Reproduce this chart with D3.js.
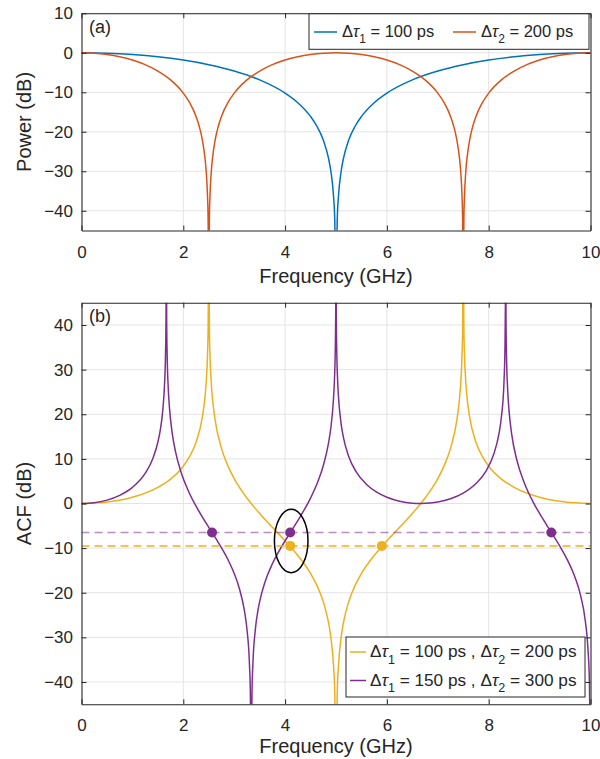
<!DOCTYPE html>
<html>
<head>
<meta charset="utf-8">
<script src="https://cdn.jsdelivr.net/npm/d3@7"></script>
<style>
  body { margin: 0; background: #fff; }
  svg text { font-family: "Liberation Sans", Arial, sans-serif; fill: #262626; }
</style>
</head>
<body>
<div id="chart"></div>
<script>
// ---- data ----
const freqTicks = [0, 2, 4, 6, 8, 10];
const powerTicks = [10, 0, -10, -20, -30, -40];
const acfTicks = [40, 30, 20, 10, 0, -10, -20, -30, -40];

// (a) power vs frequency [GHz, dB]
const powerTau100 = [[0,0],[0.5,-0.11],[1,-0.44],[1.5,-1.00],[2,-1.84],[2.5,-3.01],[3,-4.62],[3.5,-6.86],[4,-10.20],
  [4.25,-12.64],[4.5,-16.11],[4.625,-18.60],[4.75,-22.11],[4.85,-26.54],[4.9,-30.06],[4.95,-36.08],[4.975,-42.10],[5,-60],
  [5.025,-42.10],[5.05,-36.08],[5.1,-30.06],[5.15,-26.54],[5.25,-22.11],[5.375,-18.60],[5.5,-16.11],[5.75,-12.64],
  [6,-10.20],[6.5,-6.86],[7,-4.62],[7.5,-3.01],[8,-1.84],[8.5,-1.00],[9,-0.44],[9.5,-0.11],[10,0]];

const powerTau200 = [[0,0],[0.25,-0.11],[0.5,-0.44],[0.75,-1.00],[1,-1.84],[1.25,-3.01],[1.5,-4.62],[1.75,-6.86],[2,-10.20],
  [2.125,-12.64],[2.25,-16.11],[2.3125,-18.60],[2.375,-22.11],[2.425,-26.54],[2.45,-30.06],[2.475,-36.08],[2.4875,-42.10],[2.5,-60],
  [2.5125,-42.10],[2.525,-36.08],[2.55,-30.06],[2.575,-26.54],[2.625,-22.11],[2.6875,-18.60],[2.75,-16.11],[2.875,-12.64],
  [3,-10.20],[3.25,-6.86],[3.5,-4.62],[3.75,-3.01],[4,-1.84],[4.25,-1.00],[4.5,-0.44],[4.75,-0.11],[5,0],
  [5.25,-0.11],[5.5,-0.44],[5.75,-1.00],[6,-1.84],[6.25,-3.01],[6.5,-4.62],[6.75,-6.86],[7,-10.20],
  [7.125,-12.64],[7.25,-16.11],[7.3125,-18.60],[7.375,-22.11],[7.425,-26.54],[7.45,-30.06],[7.475,-36.08],[7.4875,-42.10],[7.5,-60],
  [7.5125,-42.10],[7.525,-36.08],[7.55,-30.06],[7.575,-26.54],[7.625,-22.11],[7.6875,-18.60],[7.75,-16.11],[7.875,-12.64],
  [8,-10.20],[8.25,-6.86],[8.5,-4.62],[8.75,-3.01],[9,-1.84],[9.25,-1.00],[9.5,-0.44],[9.75,-0.11],[10,0]];

// (b) ACF vs frequency [GHz, dB]
const acf100_200 = [[0,0],[0.5,0.33],[1,1.40],[1.5,3.62],[1.75,5.47],[2,8.36],[2.125,10.54],[2.25,13.73],[2.375,19.43],
  [2.425,23.73],[2.45,27.18],[2.475,33.14],[2.4875,39.13],[2.5,60],[2.5125,39.06],[2.525,33.00],[2.55,26.91],[2.575,23.32],
  [2.625,18.74],[2.75,12.36],[2.875,8.48],[3,5.58],[3.25,1.22],[3.5,-2.24],[3.75,-5.33],[4,-8.36],[4.25,-11.64],[4.5,-15.67],
  [4.625,-18.36],[4.75,-22.00],[4.85,-26.50],[4.9,-30.04],[4.95,-36.07],[4.975,-42.10],[5,-60],[5.025,-42.10],[5.05,-36.07],
  [5.1,-30.04],[5.15,-26.50],[5.25,-22.00],[5.375,-18.36],[5.5,-15.67],[5.75,-11.64],[6,-8.36],[6.25,-5.33],[6.5,-2.24],
  [6.75,1.22],[7,5.58],[7.125,8.48],[7.25,12.36],[7.375,18.74],[7.425,23.32],[7.45,26.91],[7.475,33.00],[7.4875,39.06],[7.5,60],
  [7.5125,39.13],[7.525,33.14],[7.55,27.18],[7.575,23.73],[7.625,19.43],[7.75,13.73],[7.875,10.54],[8,8.36],[8.25,5.47],
  [8.5,3.62],[9,1.40],[9.5,0.33],[10,0]];

const acf150_300 = [[0,0],[0.25,0.18],[0.5,0.76],[0.75,1.83],[1,3.61],[1.25,6.74],[1.4,10.04],[1.5,13.73],[1.55,16.63],[1.6,21.30],
  [1.63,26.37],[1.65,33.14],[1.66,41.05],[1.6667,60],[1.6733,41.00],[1.6833,33.00],[1.7033,26.07],[1.7333,20.75],[1.7833,15.67],
  [1.85,11.46],[1.95,7.23],[2.1,2.81],[2.3,-1.60],[2.5,-5.33],[2.57,-6.60],[2.7,-8.98],[2.9,-13.11],[3,-15.67],[3.1,-18.98],
  [3.2,-23.97],[3.25,-28.09],[3.3,-36.07],[3.3167,-42.10],[3.3333,-60],[3.35,-42.10],[3.3667,-36.08],[3.4167,-28.09],
  [3.4667,-23.97],[3.5,-22.00],[3.6,-17.76],[3.75,-13.51],[3.9,-10.27],[4.1,-6.54],[4.3,-2.88],[4.5,1.22],[4.65,5.08],
  [4.75,8.47],[4.85,13.35],[4.9,17.09],[4.95,23.32],[4.97,27.84],[4.985,33.92],[4.995,43.51],[5,60],[5.005,43.55],
  [5.015,34.04],[5.03,28.08],[5.05,23.73],[5.1,17.91],[5.15,14.58],[5.25,10.54],[5.4,7.03],[5.6,4.27],[5.8,2.54],[6,1.40],
  [6.25,0.52],[6.5,0.08],[6.6667,0],[6.85,0.10],[7,0.33],[7.25,1.06],[7.5,2.32],[7.75,4.46],[7.95,7.33],[8.1,11.08],
  [8.2,15.54],[8.25,19.43],[8.3,27.18],[8.32,35.06],[8.33,47.07],[8.3333,60],[8.34,41.00],[8.35,33.00],[8.37,26.07],
  [8.4,20.75],[8.45,15.67],[8.55,9.86],[8.7,4.59],[8.9,-0.23],[9.05,-3.19],[9.23,-6.48],[9.4,-9.62],[9.55,-12.73],
  [9.7,-16.67],[9.8,-20.37],[9.9,-26.50],[9.95,-32.55],[9.98,-40.51],[10,-60]];

// equal-ACF levels and the crossing points marked on them
const levelYellow = -9.5;
const levelPurple = -6.5;
const dotsYellow = [[4.1,-9.5],[5.9,-9.5]];
const dotsPurple = [[2.565,-6.5],[4.1,-6.5],[9.23,-6.5]];
const ellipseAt = { f: 4.12, db: -8.4, rf: 0.33, rdb: 7.1 };

const colors = { blue: '#0072BD', orange: '#D95319', yellow: '#EDB120', purple: '#7E2F8E' };

// ---- drawing ----
const W = 600, H = 759;
const svg = d3.select('#chart').append('svg').attr('width', W).attr('height', H);

function panel(cfg) {
  const x = d3.scaleLinear().domain([0, 10]).range([81.5, 590.5]);
  const y = d3.scaleLinear().domain(cfg.yDomain).range([cfg.bottom, cfg.top]);
  const g = svg.append('g');

  // grid
  g.append('g').selectAll('line').data(freqTicks.slice(1, -1)).join('line')
    .attr('x1', d => x(d)).attr('x2', d => x(d)).attr('y1', cfg.top).attr('y2', cfg.bottom)
    .attr('stroke', '#e4e4e4').attr('stroke-width', 1);
  g.append('g').selectAll('line').data(cfg.yTicks).join('line')
    .attr('x1', x(0)).attr('x2', x(10)).attr('y1', d => y(d)).attr('y2', d => y(d))
    .attr('stroke', '#e4e4e4').attr('stroke-width', 1);

  const clipId = 'clip-' + cfg.name;
  svg.append('clipPath').attr('id', clipId).append('rect')
    .attr('x', x(0)).attr('y', cfg.top).attr('width', x(10) - x(0)).attr('height', cfg.bottom - cfg.top);

  const plot = g.append('g').attr('clip-path', 'url(#' + clipId + ')');
  const lineGen = d3.line().x(d => x(d[0])).y(d => y(d[1])).curve(d3.curveMonotoneX);

  cfg.series.forEach(s => {
    plot.append('path').datum(s.data)
      .attr('fill', 'none').attr('stroke', s.color).attr('stroke-width', 1.5)
      .attr('d', lineGen);
  });

  // axes (ticks inside, MATLAB style)
  const axisStyle = sel => sel.attr('color', '#262626').attr('font-size', 17)
    .attr('font-family', '"Liberation Sans", Arial, sans-serif');
  g.append('g').attr('transform', `translate(0,${cfg.bottom})`)
    .call(d3.axisBottom(x).tickValues(freqTicks).tickSizeInner(-5).tickSizeOuter(0).tickPadding(15))
    .call(axisStyle);
  g.append('g').attr('transform', `translate(0,${cfg.top})`)
    .call(d3.axisTop(x).tickValues(freqTicks).tickSizeInner(-5).tickSizeOuter(0).tickFormat(''))
    .call(axisStyle);
  g.append('g').attr('transform', `translate(${x(0)},0)`)
    .call(d3.axisLeft(y).tickValues(cfg.yTicks).tickSizeInner(-5).tickSizeOuter(0).tickPadding(8.5))
    .call(axisStyle);
  g.append('g').attr('transform', `translate(${x(10)},0)`)
    .call(d3.axisRight(y).tickValues(cfg.yTicks).tickSizeInner(-5).tickSizeOuter(0).tickFormat(''))
    .call(axisStyle);
  g.selectAll('.domain').attr('stroke-width', 1.1);
  g.selectAll('.tick text').attr('fill', '#262626');

  // labels
  g.append('text').attr('x', x(5)).attr('y', cfg.bottom + cfg.xLabelGap)
    .attr('text-anchor', 'middle').attr('font-size', 20).text('Frequency (GHz)');
  g.append('text').attr('transform', `translate(31,${(cfg.top + cfg.bottom) / 2}) rotate(-90)`)
    .attr('text-anchor', 'middle').attr('font-size', 20).text(cfg.yLabel);
  g.append('text').attr('x', 89).attr('y', cfg.top + 19.5).attr('font-size', 18).text(cfg.tag);

  return { g, x, y, plot };
}

// legend label with Greek delta/tau and subscripts
function tauLabel(text, parts, subSize) {
  parts.forEach(p => {
    text.append('tspan').text('\u0394');
    text.append('tspan').attr('font-style', 'italic').text('\u03c4');
    text.append('tspan').attr('font-size', subSize).attr('dy', 6.5).text(p.sub);
    text.append('tspan').attr('dy', -6.5).text(p.rest);
  });
}

// (a)
const pa = panel({
  name: 'a', top: 13.3, bottom: 230.5, yDomain: [-45, 10], yTicks: powerTicks,
  yLabel: 'Power (dB)', tag: '(a)', xLabelGap: 52.5,
  series: [{ data: powerTau100, color: colors.blue }, { data: powerTau200, color: colors.orange }]
});

const legA = svg.append('g');
legA.append('rect').attr('x', 309).attr('y', 13.8).attr('width', 280).attr('height', 35.5)
  .attr('fill', '#fff').attr('stroke', '#262626').attr('stroke-width', 1);
[{ x: 314, color: colors.blue, sub: '1', rest: ' = 100 ps' },
 { x: 453, color: colors.orange, sub: '2', rest: ' = 200 ps' }].forEach(e => {
  legA.append('line').attr('x1', e.x).attr('x2', e.x + 23).attr('y1', 32).attr('y2', 32)
    .attr('stroke', e.color).attr('stroke-width', 1.5);
  tauLabel(legA.append('text').attr('x', e.x + 28).attr('y', 36.5).attr('font-size', 16.5),
    [{ sub: e.sub, rest: e.rest }], 12);
});

// (b)
const pb = panel({
  name: 'b', top: 302.7, bottom: 704.3, yDomain: [-45, 45], yTicks: acfTicks,
  yLabel: 'ACF (dB)', tag: '(b)', xLabelGap: 48.5,
  series: [{ data: acf100_200, color: colors.yellow }, { data: acf150_300, color: colors.purple }]
});

pb.plot.append('line').attr('x1', pb.x(0)).attr('x2', pb.x(10))
  .attr('y1', pb.y(levelPurple)).attr('y2', pb.y(levelPurple))
  .attr('stroke', colors.purple).attr('stroke-opacity', 0.55).attr('stroke-width', 1.5).attr('stroke-dasharray', '8,5');
pb.plot.append('line').attr('x1', pb.x(0)).attr('x2', pb.x(10))
  .attr('y1', pb.y(levelYellow)).attr('y2', pb.y(levelYellow))
  .attr('stroke', colors.yellow).attr('stroke-width', 1.5).attr('stroke-dasharray', '8,5');

pb.plot.append('g').selectAll('circle').data(dotsYellow).join('circle')
  .attr('cx', d => pb.x(d[0])).attr('cy', d => pb.y(d[1])).attr('r', 5).attr('fill', colors.yellow);
pb.plot.append('g').selectAll('circle').data(dotsPurple).join('circle')
  .attr('cx', d => pb.x(d[0])).attr('cy', d => pb.y(d[1])).attr('r', 5).attr('fill', colors.purple);

pb.plot.append('ellipse')
  .attr('cx', pb.x(ellipseAt.f)).attr('cy', pb.y(ellipseAt.db))
  .attr('rx', pb.x(ellipseAt.rf) - pb.x(0)).attr('ry', pb.y(0) - pb.y(ellipseAt.rdb))
  .attr('fill', 'none').attr('stroke', '#000').attr('stroke-width', 1.5);

const legB = svg.append('g');
legB.append('rect').attr('x', 346).attr('y', 637).attr('width', 239).attr('height', 60)
  .attr('fill', '#fff').attr('stroke', '#262626').attr('stroke-width', 1);
[{ y: 652, color: colors.yellow, a: ' = 100 ps , ', b: ' = 200 ps' },
 { y: 680.5, color: colors.purple, a: ' = 150 ps , ', b: ' = 300 ps' }].forEach(e => {
  legB.append('line').attr('x1', 350).attr('x2', 366).attr('y1', e.y).attr('y2', e.y)
    .attr('stroke', e.color).attr('stroke-width', 1.5);
  tauLabel(legB.append('text').attr('x', 370).attr('y', e.y + 5).attr('font-size', 17.2),
    [{ sub: '1', rest: e.a }, { sub: '2', rest: e.b }], 12.5);
});
</script>
</body>
</html>
